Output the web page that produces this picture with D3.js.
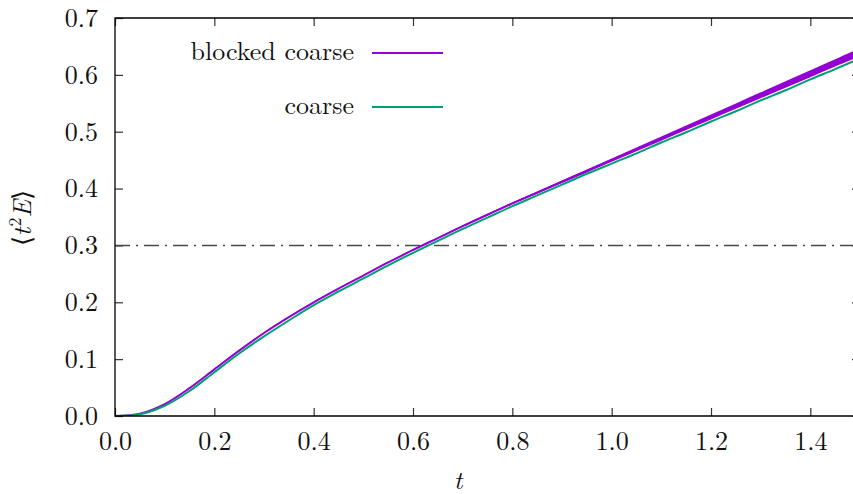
<!DOCTYPE html>
<html>
<head>
<meta charset="utf-8">
<script src="https://cdn.jsdelivr.net/npm/d3@7"></script>
<style>
  html, body { margin: 0; padding: 0; background: #fff; overflow: hidden; }
</style>
</head>
<body>
<div id="chart"></div>
<script>
// flow time t
const tVals = [0, 0.05, 0.1, 0.15, 0.2, 0.25, 0.3, 0.35, 0.4, 0.45, 0.5, 0.55, 0.6, 0.65, 0.7,
  0.75, 0.8, 0.85, 0.9, 0.95, 1.0, 1.05, 1.1, 1.15, 1.2, 1.25, 1.3, 1.35, 1.4, 1.45, 1.5];

// <t^2 E>, blocked coarse (central value and half band width)
const blockedMid = [0, 0.004, 0.021, 0.049, 0.082, 0.115, 0.146, 0.174, 0.200, 0.224, 0.247,
  0.270, 0.292, 0.313, 0.334, 0.354, 0.374, 0.393, 0.412, 0.431, 0.450, 0.469, 0.488, 0.507,
  0.526, 0.545, 0.564, 0.583, 0.602, 0.621, 0.640];
const blockedErr = [0, 0.0005, 0.0005, 0.0005, 0.0005, 0.0005, 0.0005, 0.0005, 0.0005, 0.0005,
  0.0005, 0.0007, 0.0008, 0.001, 0.0012, 0.0015, 0.0017, 0.002, 0.0023, 0.0026, 0.003, 0.0033,
  0.0037, 0.004, 0.0044, 0.0048, 0.0052, 0.0056, 0.006, 0.0065, 0.007];

// <t^2 E>, coarse
const coarseVals = [0, 0.003, 0.018, 0.044, 0.077, 0.110, 0.140, 0.168, 0.195, 0.219, 0.242,
  0.265, 0.287, 0.308, 0.329, 0.349, 0.369, 0.388, 0.407, 0.426, 0.444, 0.462, 0.481, 0.499,
  0.518, 0.536, 0.555, 0.573, 0.592, 0.610, 0.629];

const refLevel = 0.3;
const xTicks = [0, 0.2, 0.4, 0.6, 0.8, 1.0, 1.2, 1.4];
const yTicks = [0, 0.1, 0.2, 0.3, 0.4, 0.5, 0.6, 0.7];

const FONT = "\"Latin Modern Roman\", \"Liberation Serif\", serif";
const CONFIG = {
  width: 853,
  height: 494,
  left: 115,
  right: 860,
  top: 18,
  bottom: 416,
  tick: 8,
  font: 26,
  colors: { blocked: "#9400d3", coarse: "#009e73", ref: "#4a4a4a" }
};

const x = d3.scaleLinear().domain([0, 1.5]).range([CONFIG.left, CONFIG.right]);
const y = d3.scaleLinear().domain([0, 0.7]).range([CONFIG.bottom, CONFIG.top]);

const svg = d3.select("#chart").append("svg")
  .attr("width", CONFIG.width)
  .attr("height", CONFIG.height);

svg.append("clipPath").attr("id", "plot-clip")
  .append("rect")
  .attr("x", CONFIG.left).attr("y", CONFIG.top)
  .attr("width", CONFIG.right - CONFIG.left)
  .attr("height", CONFIG.bottom - CONFIG.top);

const fmt = d3.format(".1f");
const serif = (sel) => sel.style("font-family", FONT).style("font-size", CONFIG.font + "px").attr("fill", "#111");

// axes with inward ticks
const styleAxis = (g) => {
  g.select(".domain").remove();
  g.selectAll(".tick line").attr("stroke", "#333").attr("stroke-width", 1.2);
  g.selectAll("text").call(serif);
};

svg.append("g")
  .attr("transform", `translate(0,${CONFIG.bottom})`)
  .call(d3.axisBottom(x).tickValues(xTicks).tickFormat(fmt).tickSize(-CONFIG.tick).tickPadding(16))
  .call(styleAxis)
  .call(g => g.selectAll("text").attr("dy", "0.68em"));

svg.append("g")
  .attr("transform", `translate(0,${CONFIG.top})`)
  .call(d3.axisTop(x).tickValues(xTicks).tickFormat("").tickSize(-CONFIG.tick))
  .call(styleAxis);

svg.append("g")
  .attr("transform", `translate(${CONFIG.left},0)`)
  .call(d3.axisLeft(y).tickValues(yTicks).tickFormat(fmt).tickSize(-CONFIG.tick).tickPadding(17))
  .call(styleAxis);

svg.append("g")
  .attr("transform", `translate(${CONFIG.right},0)`)
  .call(d3.axisRight(y).tickValues(yTicks).tickFormat("").tickSize(-CONFIG.tick))
  .call(styleAxis);

// reference line at 0.3
svg.append("line")
  .attr("x1", x(0)).attr("x2", x(1.5))
  .attr("y1", y(refLevel)).attr("y2", y(refLevel))
  .attr("stroke", CONFIG.colors.ref)
  .attr("stroke-width", 1.6)
  .attr("stroke-dasharray", "15,6,2,6");

const plot = svg.append("g").attr("clip-path", "url(#plot-clip)");

const blockedRows = tVals.map((t, i) => ({ t, mid: blockedMid[i], err: blockedErr[i] }));
const coarseRows = tVals.map((t, i) => ({ t, v: coarseVals[i] }));

const curve = d3.curveCatmullRom.alpha(0.5);

plot.append("path")
  .datum(blockedRows)
  .attr("fill", CONFIG.colors.blocked)
  .attr("d", d3.area()
    .x(d => x(d.t))
    .y0(d => y(d.mid - d.err))
    .y1(d => y(d.mid + d.err))
    .curve(curve));

plot.append("path")
  .datum(blockedRows)
  .attr("fill", "none")
  .attr("stroke", CONFIG.colors.blocked)
  .attr("stroke-width", 2)
  .attr("d", d3.line().x(d => x(d.t)).y(d => y(d.mid)).curve(curve));

plot.append("path")
  .datum(coarseRows)
  .attr("fill", "none")
  .attr("stroke", CONFIG.colors.coarse)
  .attr("stroke-width", 2)
  .attr("d", d3.line().x(d => x(d.t)).y(d => y(d.v)).curve(curve));

// frame: left, top, bottom
svg.append("path")
  .attr("d", `M${CONFIG.right},${CONFIG.top}H${CONFIG.left}V${CONFIG.bottom}H${CONFIG.right}`)
  .attr("fill", "none")
  .attr("stroke", "#000")
  .attr("stroke-width", 1.3);

// legend
const legend = [
  { label: "blocked coarse", color: CONFIG.colors.blocked, y: 53 },
  { label: "coarse", color: CONFIG.colors.coarse, y: 107 }
];
const lg = svg.append("g");
legend.forEach(d => {
  lg.append("text")
    .attr("x", 354).attr("y", d.y + 7)
    .attr("text-anchor", "end")
    .call(serif)
    .text(d.label);
  lg.append("line")
    .attr("x1", 372).attr("x2", 443)
    .attr("y1", d.y).attr("y2", d.y)
    .attr("stroke", d.color)
    .attr("stroke-width", 2);
});

// axis titles
svg.append("text")
  .attr("x", 458).attr("y", 489)
  .attr("text-anchor", "middle")
  .call(serif)
  .style("font-style", "italic")
  .text("t");

const yl = svg.append("text")
  .attr("transform", "translate(31,218) rotate(-90)")
  .attr("text-anchor", "middle")
  .call(serif);
yl.append("tspan").text("\u27E8");
yl.append("tspan").style("font-style", "italic").text("t");
yl.append("tspan").style("font-size", "18px").attr("dx", 1).attr("dy", -10).text("2");
yl.append("tspan").style("font-style", "italic").attr("dy", 10).text("E");
yl.append("tspan").text("\u27E9");
</script>
</body>
</html>
